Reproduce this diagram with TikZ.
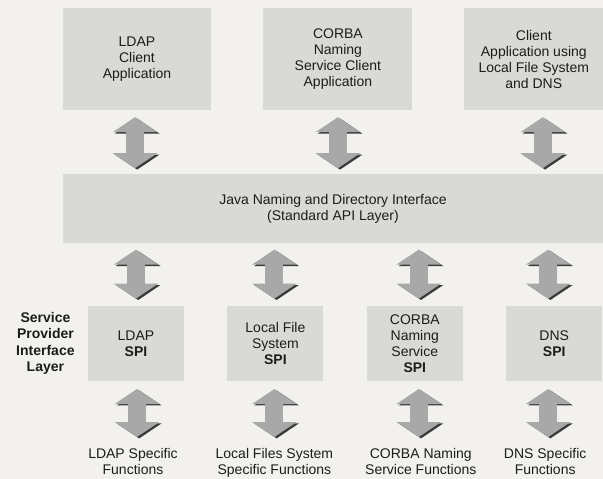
\documentclass[tikz,border=0pt]{standalone}
\usepackage{fontspec}
\setmainfont{Liberation Sans}
\usetikzlibrary{calc,positioning,arrows.meta}
\definecolor{JPaper}{HTML}{F2F1ED}
\definecolor{JBox}{HTML}{D9D9D6}
\definecolor{JArrow}{HTML}{A8A8A8}
\definecolor{JShade}{HTML}{3A3A3A}
\definecolor{JText}{HTML}{1C1C1C}
\tikzset{
  jBase/.style={
    font=\fontsize{14pt}{16pt}\selectfont,
    text=JText,
    align=center,
    inner sep=2pt
  },
  jApp/.style={
    jBase,
    fill=JBox,
    minimum width=148pt,
    minimum height=102pt
  },
  jApi/.style={
    jBase,
    fill=JBox,
    minimum width=540pt,
    minimum height=69pt
  },
  jSpi/.style={
    jBase,
    fill=JBox,
    minimum width=96pt,
    minimum height=75pt
  },
  jLabel/.style={
    jBase
  },
  jSide/.style={
    jBase,
    font=\fontsize{14pt}{16.5pt}\selectfont\bfseries
  },
  jArrow/.style={
    line width=18pt,
    color=JArrow,
    {Triangle[width=44pt,length=15pt]}-{Triangle[width=44pt,length=15pt]},
    preaction={draw, color=JShade, transform canvas={shift={(2.2pt,-1.4pt)}}}
  }
}

\begin{document}
\begin{tikzpicture}
        \fill [JPaper] (0,0) rectangle (603pt,-479pt);
        \useasboundingbox (0,0) rectangle (603pt,-479pt);

        \node (c1) [jApp] at (137pt,-59pt) {LDAP\\Client\\Application};
        \node (c2) [jApp, right=52pt of c1, minimum width=149pt] {CORBA\\Naming\\Service Client\\Application};
        \node (c3) [jApp, right=51pt of c2, minimum width=140pt] {Client\\Application using\\Local File System\\and DNS};

        \node (jndi) [jApi, below=64pt of c1.south west, anchor=north west] {Java Naming and Directory Interface\\(Standard API Layer)};

        \node (s1) [jSpi, below=62pt of jndi.south west, anchor=north west, xshift=25pt] {LDAP\\\textbf{SPI}};
        \node (s2) [jSpi, right=43pt of s1] {Local File\\System\\\textbf{SPI}};
        \node (s3) [jSpi, right=43pt of s2] {CORBA\\Naming\\Service\\\textbf{SPI}};
        \node (s4) [jSpi, right=43pt of s3] {DNS\\\textbf{SPI}};
        \node (spil) [jSide, left=11pt of s1] {Service\\Provider\\Interface\\Layer};

        \node (f1) [jLabel, below=65pt of s1, xshift=-3pt] {LDAP Specific\\Functions};
        \node (f2) [jLabel, below=65pt of s2, xshift=-1pt] {Local Files System\\Specific Functions};
        \node (f3) [jLabel, below=65pt of s3, xshift=6pt] {CORBA Naming\\Service Functions};
        \node (f4) [jLabel, below=65pt of s4, xshift=-9pt] {DNS Specific\\Functions};

        \foreach \a/\dx in {c1/-2pt, c2/0pt, c3/9pt}
          \draw [jArrow] ($(\a.south)+(\dx,-7pt)$) -- ($(\a.south |- jndi.north)+(\dx,6pt)$);
        \foreach \b/\dx in {s1/0pt, s2/-1pt, s3/4pt, s4/-6pt}
          \draw [jArrow] ($(\b.north |- jndi.south)+(\dx,-6pt)$) -- ($(\b.north)+(\dx,7pt)$);
        \foreach \a/\b/\dx in {s1/f1/1pt, s2/f2/-1pt, s3/f3/4pt, s4/f4/-6pt}
          \draw [jArrow] ($(\a.south)+(\dx,-8pt)$) -- ($(\a.south |- \b.north)+(\dx,9pt)$);
      \end{tikzpicture}
\end{document}
